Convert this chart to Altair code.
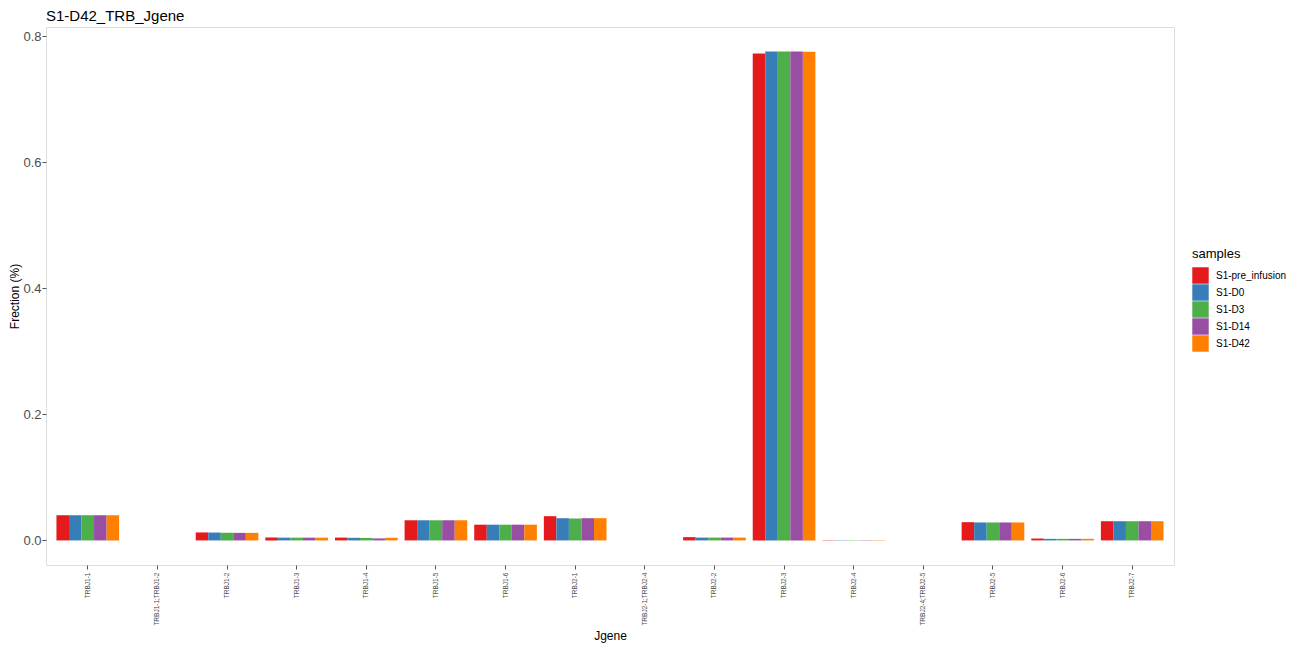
import altair as alt
import pandas as pd

genes = ["TRBJ1-1", "TRBJ1-1;TRBJ1-2", "TRBJ1-2", "TRBJ1-3", "TRBJ1-4", "TRBJ1-5",
         "TRBJ1-6", "TRBJ2-1", "TRBJ2-1;TRBJ2-4", "TRBJ2-2", "TRBJ2-3", "TRBJ2-4",
         "TRBJ2-4;TRBJ2-5", "TRBJ2-5", "TRBJ2-6", "TRBJ2-7"]
samples = ["S1-pre_infusion", "S1-D0", "S1-D3", "S1-D14", "S1-D42"]
colors = ["#E41A1C", "#377EB8", "#4DAF4A", "#984EA3", "#FF7F00"]

pre_infusion = [0.0400, 0.0000, 0.0127, 0.0047, 0.0045, 0.0320, 0.0250, 0.0385, 0.0000, 0.0052, 0.7730, 0.0005, 0.0000, 0.0290, 0.0030, 0.0305]
d0 = [0.0400, 0.0000, 0.0125, 0.0044, 0.0042, 0.0320, 0.0250, 0.0353, 0.0000, 0.0045, 0.7760, 0.0005, 0.0000, 0.0285, 0.0025, 0.0305]
d3 = [0.0400, 0.0000, 0.0120, 0.0044, 0.0040, 0.0320, 0.0250, 0.0348, 0.0000, 0.0045, 0.7762, 0.0005, 0.0000, 0.0285, 0.0025, 0.0305]
d14 = [0.0400, 0.0000, 0.0120, 0.0044, 0.0032, 0.0320, 0.0250, 0.0353, 0.0000, 0.0045, 0.7760, 0.0005, 0.0000, 0.0285, 0.0025, 0.0305]
d42 = [0.0400, 0.0000, 0.0120, 0.0044, 0.0042, 0.0320, 0.0250, 0.0353, 0.0000, 0.0045, 0.7758, 0.0005, 0.0000, 0.0285, 0.0025, 0.0305]

series = [pre_infusion, d0, d3, d14, d42]
rows = []
for s, vals in zip(samples, series):
    for g, v in zip(genes, vals):
        rows.append({"Jgene": g, "samples": s, "value": v})
df = pd.DataFrame(rows)

FONT = "Liberation Sans"

chart = alt.Chart(df).mark_bar().encode(
    x=alt.X("Jgene:N", sort=genes, title="Jgene",
            scale=alt.Scale(paddingInner=0.1, paddingOuter=0.15),
            axis=alt.Axis(labelAngle=270, labelFontSize=6.5, labelColor="#4d4d4d",
                          tickColor="#555555", tickSize=4, domain=False,
                          titleFontSize=12, titleFontWeight="normal", titleColor="black",
                          titlePadding=5, labelPadding=3)),
    xOffset=alt.XOffset("samples:N", sort=samples, scale=alt.Scale(domain=samples)),
    y=alt.Y("value:Q", title="Frection (%)",
            scale=alt.Scale(domain=[-0.039, 0.815], nice=False, zero=False),
            axis=alt.Axis(values=[0, 0.2, 0.4, 0.6, 0.8], format=".1f", grid=False,
                          labelFontSize=13, labelColor="#4d4d4d", tickColor="#555555",
                          tickSize=4, domain=False, titleFontSize=12,
                          titleFontWeight="normal", titleColor="black", titlePadding=1,
                          labelPadding=1)),
    color=alt.Color("samples:N", sort=samples,
                    scale=alt.Scale(domain=samples, range=colors),
                    legend=alt.Legend(title="samples", orient="none", legendX=1146, legendY=221,
                                      symbolType="square", symbolSize=270,
                                      symbolStrokeWidth=0, symbolOpacity=1,
                                      labelFontSize=10, titleFontSize=13, labelOffset=7,
                                      titleFontWeight="normal", rowPadding=0,
                                      labelLimit=200, titlePadding=6)),
).properties(
    width=1128, height=538,
    title=alt.TitleParams("S1-D42_TRB_Jgene", anchor="start", fontSize=15, frame="group",
                          fontWeight="normal", color="black", font=FONT, offset=3),
    autosize=alt.AutoSizeParams(type="none"),
    padding={"left": 38, "top": 19, "right": 114, "bottom": 82},
).configure_view(
    stroke="#7a7a7a", strokeWidth=1.2
).configure(
    font=FONT, background="white"
)

chart.save("out.html", embed_options={"renderer": "svg", "actions": False})
